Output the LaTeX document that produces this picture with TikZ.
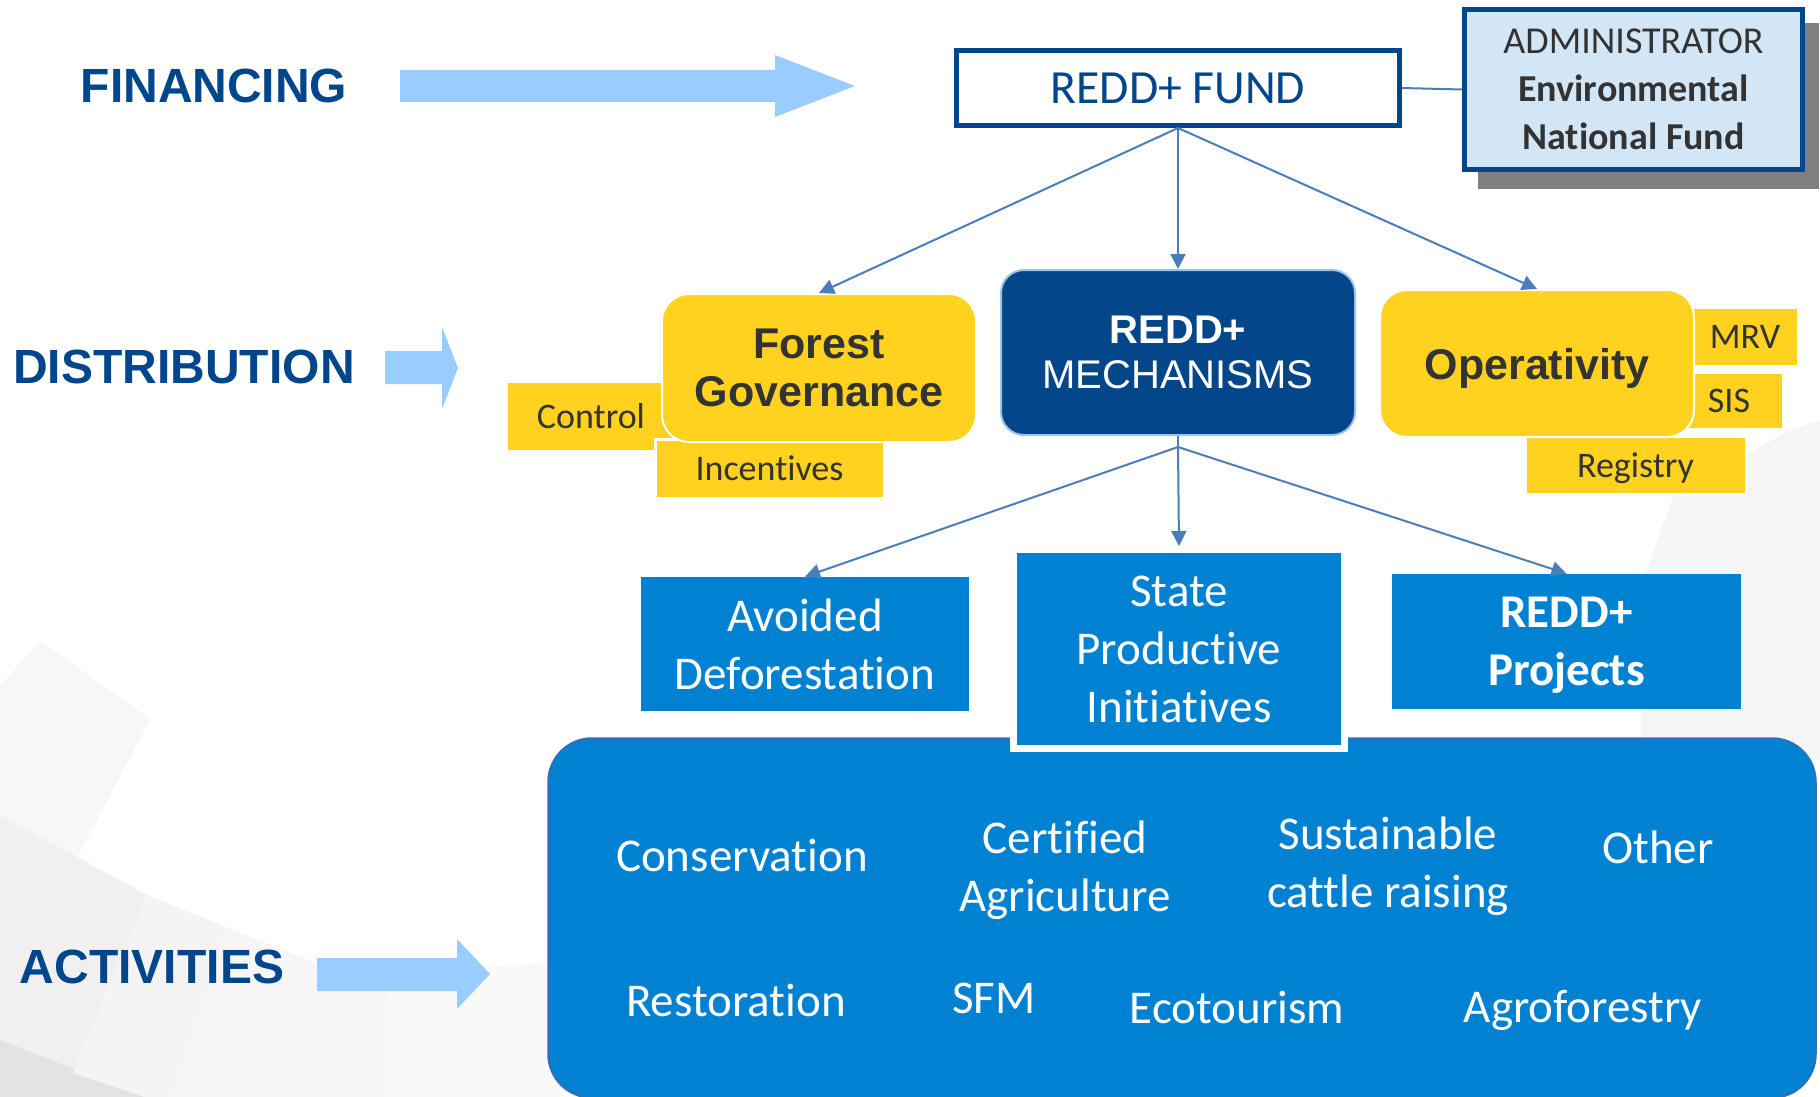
\documentclass[tikz,border=0pt]{standalone}
\usepackage{fontspec}
\setmainfont{Carlito}[RawFeature={-liga;-clig;-calt;-dlig}]
\newfontfamily\arialf{Liberation Sans}
\usetikzlibrary{arrows.meta}
\definecolor{navy}{HTML}{00468C}
\definecolor{lnblue}{HTML}{4A7EBB}
\definecolor{arrowblue}{HTML}{99CCFF}
\definecolor{yel}{HTML}{FFD21F}
\definecolor{txtgray}{HTML}{333333}
\definecolor{adminfill}{HTML}{D2E6F5}
\definecolor{shadowgray}{HTML}{7F7F7F}
\definecolor{mechblue}{HTML}{04468A}
\definecolor{mechborder}{HTML}{9CC4E8}
\definecolor{pblue}{HTML}{0081D1}
\definecolor{panelborder}{HTML}{3A6DB0}
\begin{document}
\begin{tikzpicture}[x=0.5pt,y=-0.5pt,
  lbl/.style={font=\arialf\bfseries\fontsize{24}{28}\selectfont, text=navy, inner sep=0},
  ybox/.style={fill=yel, draw=white, line width=1.5pt, inner sep=0, text=txtgray, text depth=0pt, font=\fontsize{18}{22}\selectfont},
  ybig/.style={fill=yel, draw=white, line width=1pt, rounded corners=13.5pt, inner sep=0, text=txtgray, align=center, font=\arialf\bfseries\fontsize{21.5}{24}\selectfont},
  bbox/.style={fill=pblue, inner sep=0, text=white, align=center, font=\fontsize{23.5}{29}\selectfont},
  act/.style={text=white, inner sep=0, align=center, font=\fontsize{23.5}{29}\selectfont},
  conn/.style={draw=lnblue, line width=1pt, -{Triangle[length=7.5pt,width=7.5pt]}},
  plain/.style={draw=lnblue, line width=1pt}]
\useasboundingbox (0,0) rectangle (1820,1097);
\fill[white] (0,0) rectangle (1820,1097);
% faint background shapes
\fill[black!3] (0,686) -- (40,641) -- (150,719) -- (76,860) -- (0,822) -- cycle;
\fill[black!6] (0,815) -- (147,895) -- (73,1073) -- (0,1040) -- cycle;
\fill[black!11] (0,1040) -- (145,1097) -- (0,1097) -- cycle;
\fill[black!4.5] (147,895) -- (226,927) -- (172,1097) -- (145,1097) -- (73,1073) -- cycle;
\fill[black!3.5] (226,927) -- (387,992) -- (383,1097) -- (172,1097) -- cycle;
\fill[black!2.5] (387,992) -- (475,968) -- (560,962) -- (560,1097) -- (383,1097) -- cycle;
\fill[black!4] (1790,430) -- (1820,420) -- (1820,760) -- (1640,760) -- (1645,575) -- (1673,497) -- cycle;

% row labels
\node[lbl] (fin) at (214,86) {FINANCING};
\node[lbl] (dis) at (184,367) {DISTRIBUTION};
\node[lbl] (actl) at (152,967) {ACTIVITIES};
% block arrows
\fill[arrowblue] (400,70) -- (775,70) -- (775,55) -- (855,86) -- (775,117) -- (775,102) -- (400,102) -- cycle;
\fill[arrowblue] (385,351) -- (442,351) -- (442,327) -- (458,368) -- (442,409) -- (442,384) -- (385,384) -- cycle;
\fill[arrowblue] (317,958) -- (457,958) -- (457,939) -- (490,974) -- (457,1009) -- (457,991) -- (317,991) -- cycle;

% top
\node[draw=navy, line width=2.5pt, fill=white, minimum width=221.5pt, minimum height=37.5pt, inner sep=0, text=navy, font=\fontsize{23.8}{28}\selectfont] (fund) at (1178,88) {REDD+ FUND};
\fill[shadowgray] (1478,23) rectangle (1819,189);
\node[draw=navy, line width=2.5pt, fill=adminfill, minimum width=169pt, minimum height=80pt, inner sep=0, text=txtgray, align=center, font=\fontsize{19}{24}\selectfont] (admin) at (1633.5,89.5) {ADMINISTRATOR\\\textbf{Environmental}\\\textbf{National Fund}};
\draw[plain] (fund.east) -- (admin.west);

% distribution row
\node[ybox, minimum width=85pt, minimum height=35pt] (control) at (591,416) {Control};
\node[ybox, minimum width=114.5pt, minimum height=29.5pt] (incent) at (769.5,468.5) {Incentives};
\node[ybig, minimum width=157pt, minimum height=74pt] (forest) at (819,368) {Forest\\Governance};

\node[draw=mechborder, line width=1pt, fill=mechblue, rounded corners=11.5pt, minimum width=177pt, minimum height=82.5pt, inner sep=0, text=white, align=center, font=\arialf\fontsize{20}{22.5}\selectfont] (mech) at (1178,352.5) {\textbf{REDD+}\\MECHANISMS};

\node[ybox, minimum width=53pt, minimum height=29.5pt] (mrv) at (1745,336.5) {MRV};
\node[ybox, minimum width=54pt, minimum height=28.5pt] (sis) at (1729,400.5) {SIS};
\node[ybox, minimum width=110.5pt, minimum height=29pt] (registry) at (1635.5,465) {Registry};
\node[ybig, text depth=0pt, minimum width=157pt, minimum height=73.5pt] (oper) at (1537,363.5) {Operativity};

\draw[conn] (fund.south) -- (forest.north);
\draw[conn] (fund.south) -- (mech.north);
\draw[conn] (fund.south) -- (oper.north);

% activities panel
\node[draw=panelborder, line width=0.75pt, fill=pblue, rounded corners=22pt, minimum width=634pt, minimum height=180pt, inner sep=0] (panel) at (1182,918) {};

% mechanism row
\node[bbox, minimum width=164pt, minimum height=67pt] (avoid) at (805,644) {Avoided\\Deforestation};
\node[bbox, draw=white, line width=3.5pt, minimum width=165.5pt, minimum height=99.5pt] (state) at (1179,649) {State\\Productive\\Initiatives};
\node[bbox, font=\bfseries\fontsize{23.5}{29}\selectfont, minimum width=174.5pt, minimum height=67.5pt] (proj) at (1566.5,641.5) {REDD+\\Pro\smash{j}ects};

\coordinate (mb) at (1178,447);
\draw[plain] (mech.south) -- (mb);
\draw[conn] (mb) -- (avoid.north);
\draw[conn] (mb) -- (state.north);
\draw[conn] (mb) -- (proj.north);

% activities
\node[act] (cons) at (742,855) {Conservation};
\node[act] (cert) at (1065,866) {Certified\\A\smash{g}riculture};
\node[act] (sust) at (1388,862) {Sustainable\\cattle raisin\smash{g}};
\node[act] (other) at (1658,847) {Other};
\node[act] (rest) at (736,1000) {Restoration};
\node[act] (sfm) at (994,998) {SFM};
\node[act] (eco) at (1237,1007) {Ecotourism};
\node[act] (agro) at (1583,1007) {A\smash{g}roforestr\smash{y}};
\end{tikzpicture}
\end{document}
